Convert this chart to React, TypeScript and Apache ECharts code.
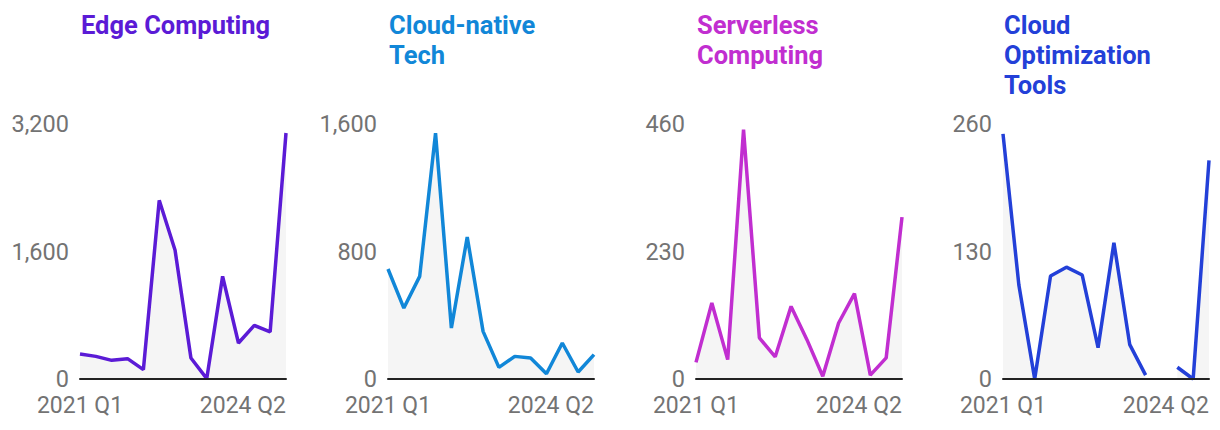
import React, { useEffect, useRef } from "react";
import * as echarts from "echarts";

const quarters = [
  "2021 Q1", "2021 Q2", "2021 Q3", "2021 Q4",
  "2022 Q1", "2022 Q2", "2022 Q3", "2022 Q4",
  "2023 Q1", "2023 Q2", "2023 Q3", "2023 Q4",
  "2024 Q1", "2024 Q2",
];

const titles = ["Edge Computing", "Cloud-native\nTech", "Serverless\nComputing", "Cloud\nOptimization\nTools"];
const colors = ["#5b1bd6", "#1187d8", "#c12ed0", "#2340d8"];

const edgeComputing = [314, 284, 234, 255, 117, 2242, 1615, 263, 5, 1288, 452, 673, 590, 3087];
const cloudNative = [690, 445, 644, 1543, 320, 891, 299, 73, 142, 132, 33, 226, 44, 153];
const serverless = [30, 137, 35, 450, 74, 40, 131, 71, 5, 101, 154, 7, 38, 292];
const cloudOptimization = [250, 96, 0, 105, 114, 106, 32, 139, 35, 4, null, 12, 0, 223];

const seriesData = [edgeComputing, cloudNative, serverless, cloudOptimization];
const yMax = [3200, 1600, 460, 260];

export default function App() {
  const ref = useRef<HTMLDivElement>(null);
  useEffect(() => {
    document.body.style.margin = "0";
    if (!ref.current) return;
    const chart = echarts.init(ref.current, null, { renderer: "svg" });
    const lefts = [80, 388, 696, 1003];
    const plotW = 206;
    const fmt = (v: number) => v.toLocaleString("en-US");
    const option: any = {
      animation: false,
      textStyle: { fontFamily: "Roboto" },
      title: titles.map((t, i) => ({
        text: t,
        left: lefts[i] + 1,
        top: 10,
        padding: 0,
        textStyle: {
          fontFamily: "Roboto",
          fontSize: 25.5,
          fontWeight: "bold",
          color: colors[i],
          lineHeight: 30,
        },
      })),
      grid: lefts.map((l) => ({ left: l, top: 124, width: plotW, height: 255 })),
      xAxis: lefts.map((_, i) => ({
        type: "category",
        gridIndex: i,
        data: quarters,
        boundaryGap: false,
        z: 10,
        axisLine: { show: true, lineStyle: { color: "#222", width: 2 } },
        axisTick: { show: false },
        splitLine: { show: false },
        axisLabel: {
          show: true,
          interval: (idx: number) => idx === 0 || idx === quarters.length - 1,
          fontFamily: "Roboto",
          fontSize: 23,
          lineHeight: 16,
          color: "#737373",
          margin: 18,
          alignMinLabel: "center",
          alignMaxLabel: "right",
          showMinLabel: true,
          showMaxLabel: true,
        },
      })),
      yAxis: lefts.map((_, i) => ({
        type: "value",
        gridIndex: i,
        min: 0,
        max: yMax[i],
        interval: yMax[i] / 2,
        axisLine: { show: false },
        axisTick: { show: false },
        splitLine: { show: false },
        axisLabel: {
          fontFamily: "Roboto",
          fontSize: 23.5,
          lineHeight: 16,
          color: "#737373",
          margin: 11,
          formatter: (v: number) => fmt(v),
        },
      })),
      series: seriesData.map((d, i) => ({
        type: "line",
        xAxisIndex: i,
        yAxisIndex: i,
        data: d,
        symbol: "none",
        connectNulls: false,
        lineStyle: { color: colors[i], width: 3.5 },
        itemStyle: { color: colors[i] },
        areaStyle: { color: "#f5f5f5", opacity: 1 },
      })),
    };
    chart.setOption(option);
    return () => chart.dispose();
  }, []);
  return <div ref={ref} style={{ width: 1220, height: 430 }} />;
}
